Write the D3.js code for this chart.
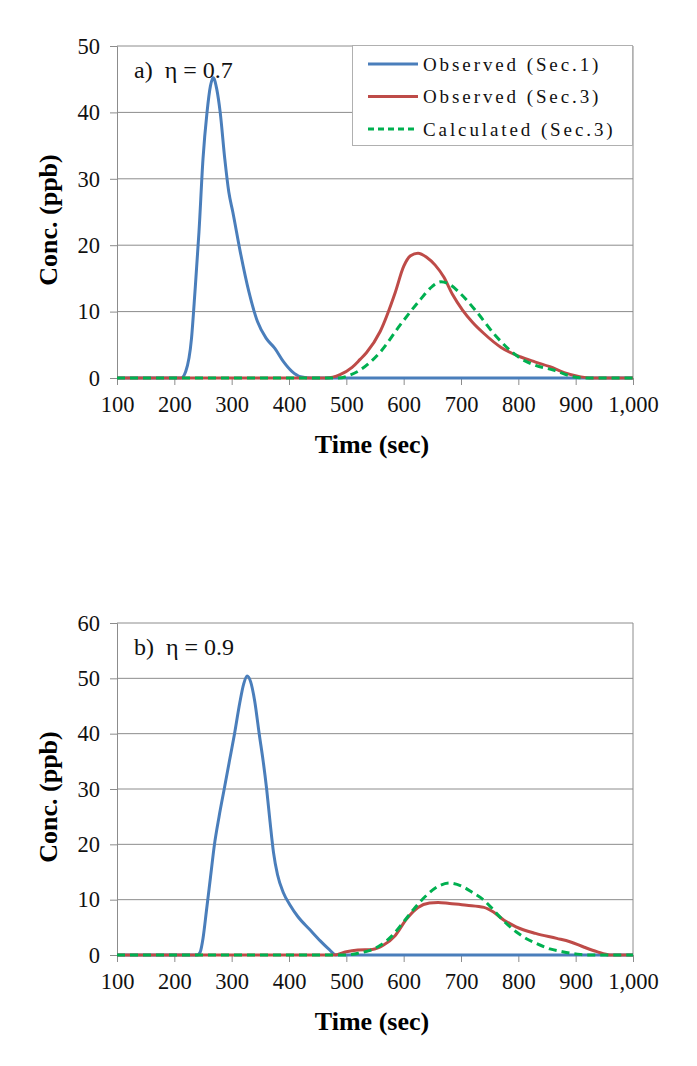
<!DOCTYPE html>
<html>
<head>
<meta charset="utf-8">
<script src="https://cdn.jsdelivr.net/npm/d3@7"></script>
<style>
  html, body { margin: 0; padding: 0; background: #fff; }
  svg { display: block; }
</style>
</head>
<body>
<svg id="chart" width="697" height="1066"></svg>
<script>
// ---------- data ----------
const xTicks = [100, 200, 300, 400, 500, 600, 700, 800, 900, 1000];
const yTicksA = [0, 10, 20, 30, 40, 50];
const yTicksB = [0, 10, 20, 30, 40, 50, 60];
const seriesNames = ["Observed (Sec.1)", "Observed (Sec.3)", "Calculated (Sec.3)"];
const titleA = "a)  η = 0.7";
const titleB = "b)  η = 0.9";
const xLabel = "Time (sec)";
const yLabel = "Conc. (ppb)";

// chart a
const aSec1T = [100, 200, 212, 220, 230, 236, 243, 250, 257, 263, 268, 274, 280, 288, 295, 302, 315, 330, 345, 360, 375, 390, 405, 420, 440, 1000];
const aSec1V = [0, 0, 0, 1, 6, 13, 22, 33, 40, 44, 45.2, 43.5, 40, 33, 28, 25, 19, 13, 8.5, 6, 4.5, 2.5, 1, 0.2, 0, 0];
const aObs3T = [100, 465, 489, 510, 524, 535, 559, 585, 600, 612, 625, 640, 655, 670, 685, 703, 720, 740, 770, 803, 830, 855, 880, 907, 925, 1000];
const aObs3V = [0, 0, 0.5, 1.6, 2.8, 3.8, 7, 12.8, 16.8, 18.4, 18.8, 18.2, 17.0, 15.2, 12.6, 10.2, 8.4, 6.7, 4.6, 3.2, 2.4, 1.7, 0.8, 0.2, 0, 0];
const aCalT = [100, 487, 505, 524, 559, 594, 628, 650, 665, 680, 698, 727, 760, 803, 830, 861, 896, 915, 1000];
const aCalV = [0, 0, 0.4, 1.2, 3.9, 8, 11.7, 13.8, 14.5, 14.1, 12.8, 10, 6.4, 3, 1.9, 1.2, 0.2, 0, 0];

// chart b
const bSec1T = [100, 240, 245, 250, 256, 263, 270, 278, 287, 296, 305, 314, 321, 327, 333, 340, 348, 355, 361, 367, 373, 380, 390, 402, 415, 437, 455, 470, 482, 1000];
const bSec1V = [0, 0, 0.5, 3, 8, 14, 20, 25, 30, 35, 40, 45.5, 49, 50.4, 49.4, 46, 40, 35, 30, 24, 18.5, 14.5, 11.3, 9, 7, 4.5, 2.5, 1, 0, 0];
const bObs3T = [100, 480, 500, 520, 545, 565, 585, 605, 625, 645, 660, 680, 710, 740, 756, 775, 796, 830, 867, 890, 915, 937, 960, 1000];
const bObs3V = [0, 0, 0.6, 0.9, 1.0, 1.8, 3.5, 6.5, 8.6, 9.4, 9.5, 9.3, 9.0, 8.6, 7.8, 6.3, 5.1, 3.9, 3.0, 2.4, 1.4, 0.6, 0, 0];
const bCalT = [100, 500, 520, 540, 560, 580, 600, 620, 640, 660, 680, 700, 720, 740, 757, 775, 796, 815, 831, 855, 877, 900, 920, 1000];
const bCalV = [0, 0, 0.3, 0.8, 1.8, 3.5, 6, 8.6, 10.8, 12.4, 13.0, 12.5, 11.3, 9.9, 8.1, 6.1, 4.2, 2.9, 2.1, 1.1, 0.6, 0.2, 0, 0];

const colors = ["#4A7EBB", "#BE4B48", "#00B050"];

// ---------- drawing ----------
const svg = d3.select("#chart");
svg.append("rect").attr("width", 697).attr("height", 1066).attr("fill", "#fff");

const serif = "'Liberation Serif', 'Times New Roman', serif";

function zip(t, v) { return t.map((d, i) => ({ t: d, v: v[i] })); }

function drawPanel(cfg) {
  const g = svg.append("g");
  const x = d3.scaleLinear().domain([100, 1000]).range([cfg.left, cfg.right]);
  const y = d3.scaleLinear().domain([0, cfg.ymax]).range([cfg.bottom, cfg.top]);

  // gridlines
  g.append("g").selectAll("line").data(cfg.yTicks.filter(d => d > 0)).join("line")
    .attr("x1", cfg.left).attr("x2", cfg.right)
    .attr("y1", d => y(d)).attr("y2", d => y(d))
    .attr("stroke", "#8c8c8c").attr("stroke-width", 1);

  // right border
  g.append("line").attr("x1", cfg.right).attr("x2", cfg.right)
    .attr("y1", cfg.top).attr("y2", cfg.bottom)
    .attr("stroke", "#8c8c8c").attr("stroke-width", 1);

  // y axis
  const yAxis = d3.axisLeft(y).tickValues(cfg.yTicks).tickSize(7).tickPadding(10)
    .tickFormat(d3.format("d"));
  const ya = g.append("g").attr("transform", `translate(${cfg.left},0)`).call(yAxis);
  ya.select(".domain").attr("stroke", "#8c8c8c");
  ya.selectAll(".tick line").attr("stroke", "#8c8c8c");
  ya.selectAll("text").attr("font-family", serif).attr("font-size", 22.5).attr("fill", "#111");

  // x axis
  const xAxis = d3.axisBottom(x).tickValues(xTicks).tickSize(7).tickPadding(11)
    .tickFormat(d3.format(","));
  const xa = g.append("g").attr("transform", `translate(0,${cfg.bottom})`).call(xAxis);
  xa.select(".domain").attr("stroke", "#8c8c8c");
  xa.selectAll(".tick line").attr("stroke", "#8c8c8c");
  xa.selectAll("text").attr("font-family", serif).attr("font-size", 22.5).attr("fill", "#111");

  // lines
  const line = d3.line().x(d => x(d.t)).y(d => y(d.v)).curve(d3.curveMonotoneX);
  cfg.series.forEach((s, i) => {
    g.append("path").datum(s).attr("d", line)
      .attr("fill", "none").attr("stroke", colors[i]).attr("stroke-width", 3)
      .attr("stroke-linejoin", "round")
      .attr("stroke-dasharray", i === 2 ? "8,5" : null);
  });

  // title
  g.append("text").attr("x", cfg.left + 17).attr("y", cfg.top + 32)
    .attr("font-family", serif).attr("font-size", 24).attr("fill", "#111")
    .attr("xml:space", "preserve").style("white-space", "pre")
    .text(cfg.title);

  // axis titles
  g.append("text").attr("x", (cfg.left + cfg.right) / 2 - 3).attr("y", cfg.bottom + 75)
    .attr("text-anchor", "middle").attr("font-family", serif).attr("font-weight", "bold")
    .attr("font-size", 26).attr("fill", "#000").text(xLabel);
  g.append("text")
    .attr("transform", `translate(57,${(cfg.top + cfg.bottom) / 2 + 8}) rotate(-90)`)
    .attr("text-anchor", "middle").attr("font-family", serif).attr("font-weight", "bold")
    .attr("font-size", 26).attr("fill", "#000").text(yLabel);

  return { x, y };
}

drawPanel({
  left: 117, right: 633, top: 46, bottom: 378, ymax: 50, yTicks: yTicksA, title: titleA,
  series: [zip(aSec1T, aSec1V), zip(aObs3T, aObs3V), zip(aCalT, aCalV)]
});
drawPanel({
  left: 117, right: 633, top: 623, bottom: 955, ymax: 60, yTicks: yTicksB, title: titleB,
  series: [zip(bSec1T, bSec1V), zip(bObs3T, bObs3V), zip(bCalT, bCalV)]
});

// legend (panel a)
const lg = svg.append("g");
lg.append("rect").attr("x", 352.5).attr("y", 45.5).attr("width", 280).attr("height", 100)
  .attr("fill", "#fff").attr("stroke", "#b0b0b0").attr("stroke-width", 1);
seriesNames.forEach((name, i) => {
  const yy = 64 + i * 32.5;
  lg.append("line").attr("x1", 368).attr("x2", 418).attr("y1", yy).attr("y2", yy)
    .attr("stroke", colors[i]).attr("stroke-width", 3)
    .attr("stroke-dasharray", i === 2 ? "6,4" : null);
  lg.append("text").attr("x", 423).attr("y", yy + 6.5)
    .attr("font-family", serif).attr("font-size", 19).attr("fill", "#111")
    .style("letter-spacing", "2.9px").text(name);
});
</script>
</body>
</html>
